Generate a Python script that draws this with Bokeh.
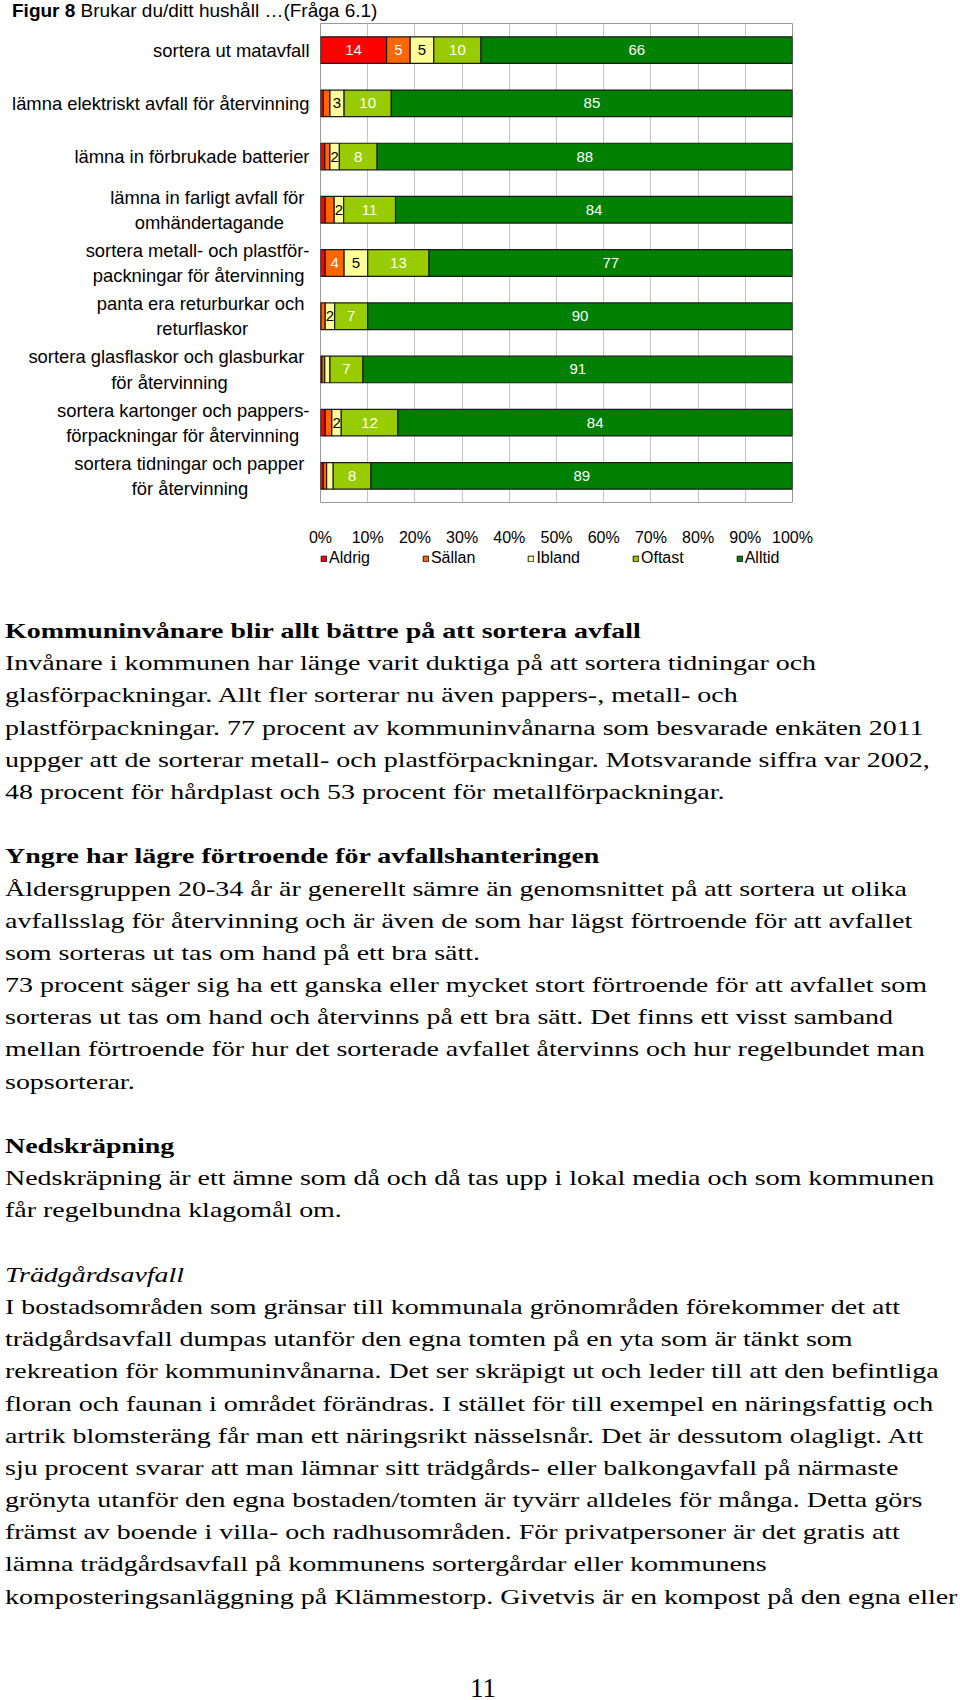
import numpy as np
from bokeh.plotting import figure
from bokeh.models import (ColumnDataSource, FactorRange, Range1d, Legend,
                          LegendItem, FixedTicker, Div)
from bokeh.layouts import column
from bokeh.core.properties import value
from bokeh.embed import file_html
from bokeh.resources import INLINE

# ---------------- data ----------------
title_bold = "Figur 8"
title_rest = " Brukar du/ditt hushåll …(Fråga 6.1)"

category_lines = [
    ["sortera ut matavfall"],
    ["lämna elektriskt avfall för återvinning"],
    ["lämna in förbrukade batterier"],
    ["lämna in farligt avfall för ", "omhändertagande"],
    ["sortera metall- och plastför-", "packningar för återvinning"],
    ["panta era returburkar och ", "returflaskor"],
    ["sortera glasflaskor och glasburkar ", "för återvinning"],
    ["sortera kartonger och pappers-", "förpackningar för återvinning"],
    ["sortera tidningar och papper ", "för återvinning"],
]

series_names = ["Aldrig", "Sällan", "Ibland", "Oftast", "Alltid"]
aldrig = [14, 0.6, 0.9, 1.0, 1.0, 0.1, 0.3, 1.0, 0.6]
sallan = [5, 1.4, 1.1, 1.9, 4, 0.9, 0.6, 1.4, 0.7]
ibland = [5, 3, 2, 2, 5, 2, 1.1, 2, 1.4]
oftast = [10, 10, 8, 11, 13, 7, 7, 12, 8]
alltid = [66, 85, 88, 84.1, 77, 90, 91, 83.6, 89.3]

tick_values = [0, 10, 20, 30, 40, 50, 60, 70, 80, 90, 100]
tick_labels = ["0%", "10%", "20%", "30%", "40%", "50%", "60%", "70%", "80%", "90%", "100%"]

colors = ["#FF0000", "#FF6600", "#FFFF99", "#99CC00", "#008000"]
label_colors = ["#FFFFFF", "#FFFFFF", "#000000", "#FFFFFF", "#FFFFFF"]

body_lines = [
    ("b", "Kommuninvånare blir allt bättre på att sortera avfall"),
    ("", "Invånare i kommunen har länge varit duktiga på att sortera tidningar och"),
    ("", "glasförpackningar. Allt fler sorterar nu även pappers-, metall- och"),
    ("", "plastförpackningar. 77 procent av kommuninvånarna som besvarade enkäten 2011"),
    ("", "uppger att de sorterar metall- och plastförpackningar. Motsvarande siffra var 2002,"),
    ("", "48 procent för hårdplast och 53 procent för metallförpackningar."),
    ("", ""),
    ("b", "Yngre har lägre förtroende för avfallshanteringen"),
    ("", "Åldersgruppen 20-34 år är generellt sämre än genomsnittet på att sortera ut olika"),
    ("", "avfallsslag för återvinning och är även de som har lägst förtroende för att avfallet"),
    ("", "som sorteras ut tas om hand på ett bra sätt."),
    ("", "73 procent säger sig ha ett ganska eller mycket stort förtroende för att avfallet som"),
    ("", "sorteras ut tas om hand och återvinns på ett bra sätt. Det finns ett visst samband"),
    ("", "mellan förtroende för hur det sorterade avfallet återvinns och hur regelbundet man"),
    ("", "sopsorterar."),
    ("", ""),
    ("b", "Nedskräpning"),
    ("", "Nedskräpning är ett ämne som då och då tas upp i lokal media och som kommunen"),
    ("", "får regelbundna klagomål om."),
    ("", ""),
    ("i", "Trädgårdsavfall"),
    ("", "I bostadsområden som gränsar till kommunala grönområden förekommer det att"),
    ("", "trädgårdsavfall dumpas utanför den egna tomten på en yta som är tänkt som"),
    ("", "rekreation för kommuninvånarna. Det ser skräpigt ut och leder till att den befintliga"),
    ("", "floran och faunan i området förändras. I stället för till exempel en näringsfattig och"),
    ("", "artrik blomsteräng får man ett näringsrikt nässelsnår. Det är dessutom olagligt. Att"),
    ("", "sju procent svarar att man lämnar sitt trädgårds- eller balkongavfall på närmaste"),
    ("", "grönyta utanför den egna bostaden/tomten är tyvärr alldeles för många. Detta görs"),
    ("", "främst av boende i villa- och radhusområden. För privatpersoner är det gratis att"),
    ("", "lämna trädgårdsavfall på kommunens sortergårdar eller kommunens"),
    ("", "komposteringsanläggning på Klämmestorp. Givetvis är en kompost på den egna eller"),
]
page_number = "11"

# ---------------- helpers ----------------
# Arial / Liberation Sans advance widths (per 1000 em)
AW = {'a': 556, 'b': 556, 'c': 500, 'd': 556, 'e': 556, 'f': 278, 'g': 556, 'h': 556,
      'i': 222, 'j': 222, 'k': 500, 'l': 222, 'm': 833, 'n': 556, 'o': 556, 'p': 556,
      'q': 556, 'r': 333, 's': 500, 't': 278, 'u': 556, 'v': 500, 'w': 722, 'x': 500,
      'y': 500, 'z': 500, 'å': 556, 'ä': 556, 'ö': 556, ' ': 278, '-': 333}
NBSP = "\u00a0"


def text_w(s, px):
    return sum(AW.get(ch, 556) for ch in s) * px / 1000.0


SANS = "Liberation Sans"
NARROW = "Liberation Sans Narrow, Liberation Sans"
SERIF = "Liberation Serif"
LFS = 18.4  # category label font size


def centred_label(lines):
    """Multi-line label whose lines are centred on each other when right-aligned."""
    widths = [text_w(l, LFS) for l in lines]
    wb = max(widths)
    space = text_w(" ", LFS)
    out = []
    for l, w in zip(lines, widths):
        n_pad = int(round((wb - w) / 2.0 / space))
        base = l.rstrip()
        trail = len(l) - len(base)
        out.append(base + NBSP * (trail + n_pad))
    return "\n".join(out)


categories = [centred_label(l) for l in category_lines]
series_vals = [aldrig, sallan, ibland, oftast, alltid]
data = {"cat": categories}
for name, vals in zip(series_names, series_vals):
    data[name] = vals
src = ColumnDataSource(data)

factors = list(reversed(categories))

# ---------------- main figure ----------------
W = 944
FRAME_H = 483
BL, BR = 320, 152
p = figure(width=W, height=FRAME_H + 42, output_backend="svg", toolbar_location=None,
           x_range=Range1d(0, 100),
           y_range=FactorRange(factors=factors, range_padding=0),
           min_border_left=BL, min_border_right=BR, min_border_top=0,
           min_border_bottom=42)
p.outline_line_color = "#9a9a9a"
p.outline_line_width = 1
p.background_fill_color = "white"
p.border_fill_color = "white"

renderers = p.hbar_stack(series_names, y="cat", height=0.5, source=src,
                         color=colors, line_color="#1a1a1a", line_width=1.2)

# value labels
lx, ly, lt, lc = [], [], [], []
for i, cat in enumerate(categories):
    left = 0.0
    for s, vals in enumerate(series_vals):
        v = vals[i]
        if v >= 2:
            lx.append(left + v / 2.0)
            ly.append(cat)
            lt.append(str(int(round(v))))
            lc.append(label_colors[s])
        left += v
lab_src = ColumnDataSource(dict(x=lx, y=ly, t=lt, c=lc))
p.text(x="x", y="y", text="t", source=lab_src, text_color="c",
       text_align="center", text_baseline="middle",
       text_font=value(NARROW), text_font_size="15px")

# x axis
xa = p.xaxis[0]
xa.ticker = FixedTicker(ticks=tick_values)
xa.major_label_overrides = {t: l for t, l in zip(tick_values, tick_labels)}
xa.axis_line_color = None
xa.major_tick_line_color = None
xa.minor_tick_line_color = None
xa.major_label_standoff = 20
xa.major_label_text_font = SANS
xa.major_label_text_font_size = "16px"
xa.major_label_text_color = "black"

# y axis (categories)
ya = p.yaxis[0]
ya.axis_line_color = None
ya.major_tick_line_color = None
ya.minor_tick_line_color = None
ya.major_label_standoff = 5
ya.major_label_text_font = SANS
ya.major_label_text_font_size = f"{LFS}px"
ya.major_label_text_color = "black"
ya.major_label_text_line_height = 1.2

p.xgrid.ticker = FixedTicker(ticks=tick_values)
p.xgrid.grid_line_color = "#c4c4c4"
p.xgrid.grid_line_width = 1
p.ygrid.grid_line_color = None

# ---------------- legend strip (own small figure) ----------------
q = figure(width=W, height=67, output_backend="svg", toolbar_location=None,
           x_range=Range1d(0, 100),
           y_range=FactorRange(factors=factors, range_padding=0),
           x_axis_location=None, y_axis_location=None,
           min_border_left=BL, min_border_right=BR, min_border_top=0,
           min_border_bottom=0)
q.outline_line_color = None
q.grid.grid_line_color = None
q.border_fill_color = "white"
# legend proxies: one row without drawable extent, used only for the legend swatches
proxy = ColumnDataSource({"cat": [factors[0]], **{n: [float("nan")] for n in series_names}})
q_renderers = q.hbar_stack(series_names, y="cat", height=0.5, source=proxy,
                           color=colors, line_color="#1a1a1a", line_width=1)
items = [LegendItem(label=n, renderers=[r], index=0) for n, r in zip(series_names, q_renderers)]
legend = Legend(items=items, orientation="horizontal", location="top_left",
                margin=0, padding=1, spacing=52, glyph_width=7, glyph_height=7,
                label_standoff=2, label_width=1, label_height=20,
                label_text_font=SANS, label_text_font_size="16px",
                label_text_color="black",
                border_line_color=None, background_fill_alpha=0)
q.add_layout(legend, "center")

# ---------------- divs ----------------
title_div = Div(text=(f'<div style="font-family:{SANS};font-size:19px;line-height:22px;'
                      f'padding-left:12px;white-space:nowrap;color:black;">'
                      f'<b>{title_bold}</b>{title_rest}</div>'),
                width=W, height=23, margin=(0, 0, 0, 0))

LH = 32.2
rows = []
for style, txt in body_lines:
    st = ""
    if style == "b":
        st = "font-weight:bold;"
    elif style == "i":
        st = "font-style:italic;"
    rows.append(f'<div style="height:{LH}px;line-height:{LH}px;white-space:nowrap;'
                f'transform:scaleX(1.30);transform-origin:0 50%;{st}">{txt or "&nbsp;"}</div>')
body_div = Div(text=(f'<div style="font-family:{SERIF};font-size:21.5px;color:black;'
                     f'padding-left:5px;">' + "".join(rows) + '</div>'),
               width=W, height=int(round(LH * len(body_lines))), margin=(0, 0, 0, 0))

page_div = Div(text=(f'<div style="font-family:{SERIF};font-size:27px;line-height:0px;'
                     f'padding-top:75px;padding-left:22px;text-align:center;width:{W}px;'
                     f'color:black;">{page_number}</div>'),
               width=W, height=80, margin=(0, 0, 0, 0))

layout = column(title_div, p, q, body_div, page_div, spacing=0)

open("out.html", "w").write(file_html(layout, INLINE))
